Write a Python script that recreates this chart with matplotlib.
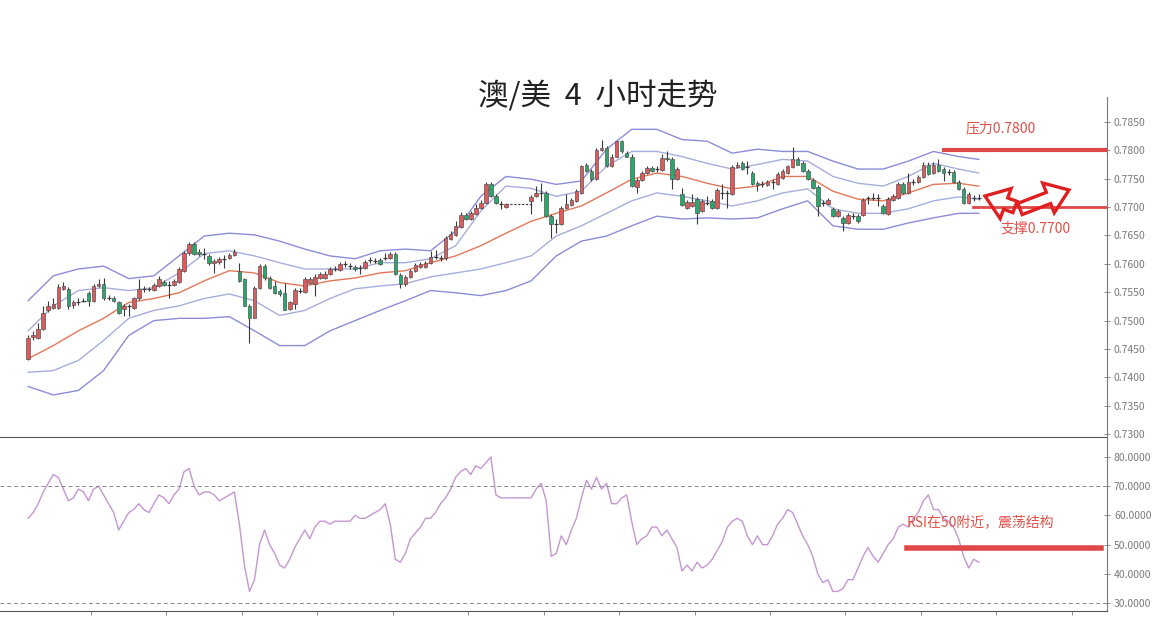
import numpy as np
import matplotlib
matplotlib.use('Agg')
import matplotlib.pyplot as plt
from matplotlib.patches import FancyArrow

plt.rcParams['font.family'] = ['Noto Sans CJK SC', 'DejaVu Sans']

nan = float('nan')

# AUD/USD 4h candles (gap = weekend)
opens = [0.7433,0.7472,0.7470,0.7486,0.7518,0.7523,0.7523,0.7556,0.7556,0.7528,
         0.7533,0.7535,0.7549,0.7535,0.7561,0.7565,0.7540,0.7540,0.7533,0.7521,
         0.7525,0.7523,0.7539,0.7556,0.7556,0.7554,0.7561,0.7568,0.7563,0.7563,
         0.7568,0.7588,0.7619,0.7635,0.7621,0.7618,0.7614,0.7602,0.7604,0.7609,
         0.7611,0.7616,0.7588,0.7574,0.7526,0.7505,0.7558,0.7596,0.7575,0.7561,
         0.7553,0.7549,0.7521,0.7530,0.7553,0.7551,0.7567,0.7565,0.7575,0.7575,
         0.7582,0.7591,0.7589,0.7600,0.7596,0.7595,0.7593,0.7593,0.7607,0.7605,
         0.7607,0.7611,0.7611,0.7618,0.7581,0.7565,0.7577,0.7588,0.7595,0.7595,
         0.7602,0.7612,0.7611,0.7611,0.7644,0.7651,0.7665,0.7686,0.7679,0.7688,
         0.7698,0.7707,0.7740,0.7719,0.7705,0.7700,nan,nan,nan,nan,
         0.7711,0.7719,0.7725,0.7725,0.7684,0.7670,0.7670,0.7698,0.7704,0.7711,
         0.7725,0.7774,0.7763,0.7749,0.7800,0.7804,0.7772,0.7789,0.7816,0.7795,
         0.7789,0.7735,0.7747,0.7760,0.7768,0.7767,0.7765,0.7786,0.7784,0.7749,
         0.7723,0.7698,0.7702,0.7714,0.7693,0.7707,0.7711,0.7698,0.7725,0.7725,
         0.7723,0.7770,0.7777,0.7770,0.7760,0.7742,0.7740,0.7739,0.7744,0.7740,
         0.7751,0.7760,0.7770,0.7784,0.7777,0.7763,0.7747,0.7735,0.7707,0.7705,
         0.7697,0.7684,0.7681,0.7672,0.7684,0.7684,0.7686,0.7716,0.7716,0.7716,
         0.7702,0.7688,0.7712,0.7716,0.7740,0.7725,0.7744,0.7744,0.7753,0.7775,
         0.7760,0.7775,0.7767,0.7761,0.7761,0.7744,0.7732,0.7707,0.7716,0.7716]
highs = [0.7474,0.7482,0.7495,0.7526,0.7535,0.7539,0.7565,0.7568,0.7560,0.7537,
         0.7540,0.7540,0.7553,0.7565,0.7574,0.7575,0.7546,0.7544,0.7535,0.7530,
         0.7530,0.7542,0.7574,0.7561,0.7560,0.7567,0.7579,0.7572,0.7570,0.7574,
         0.7595,0.7623,0.7639,0.7639,0.7626,0.7628,0.7618,0.7609,0.7612,0.7616,
         0.7619,0.7626,0.7602,0.7575,0.7530,0.7561,0.7600,0.7600,0.7579,0.7570,
         0.7556,0.7567,0.7535,0.7558,0.7558,0.7577,0.7577,0.7582,0.7586,0.7588,
         0.7595,0.7596,0.7604,0.7605,0.7602,0.7598,0.7598,0.7607,0.7612,0.7611,
         0.7611,0.7619,0.7621,0.7621,0.7584,0.7581,0.7591,0.7602,0.7604,0.7605,
         0.7623,0.7625,0.7616,0.7649,0.7658,0.7675,0.7691,0.7689,0.7693,0.7705,
         0.7712,0.7744,0.7744,0.7723,0.7711,0.7707,nan,nan,nan,nan,
         0.7721,0.7737,0.7742,0.7728,0.7688,0.7679,0.7702,0.7723,0.7716,0.7732,
         0.7775,0.7777,0.7767,0.7804,0.7819,0.7807,0.7793,0.7819,0.7818,0.7798,
         0.7793,0.7751,0.7763,0.7772,0.7772,0.7772,0.7793,0.7798,0.7788,0.7770,
         0.7733,0.7712,0.7723,0.7718,0.7714,0.7719,0.7714,0.7733,0.7740,0.7730,
         0.7774,0.7779,0.7781,0.7781,0.7763,0.7746,0.7746,0.7747,0.7749,0.7761,
         0.7767,0.7775,0.7805,0.7788,0.7781,0.7767,0.7751,0.7739,0.7712,0.7716,
         0.7700,0.7697,0.7684,0.7689,0.7689,0.7688,0.7716,0.7719,0.7725,0.7723,
         0.7705,0.7718,0.7723,0.7744,0.7744,0.7760,0.7749,0.7756,0.7779,0.7779,
         0.7779,0.7784,0.7770,0.7767,0.7765,0.7747,0.7735,0.7726,0.7721,0.7723]
lows = [0.7430,0.7465,0.7468,0.7484,0.7516,0.7521,0.7521,0.7554,0.7521,0.7523,
        0.7528,0.7532,0.7525,0.7533,0.7560,0.7537,0.7537,0.7532,0.7511,0.7509,
        0.7509,0.7521,0.7537,0.7551,0.7553,0.7553,0.7560,0.7561,0.7540,0.7561,
        0.7567,0.7586,0.7616,0.7616,0.7614,0.7609,0.7598,0.7584,0.7600,0.7593,
        0.7609,0.7614,0.7568,0.7525,0.7461,0.7504,0.7556,0.7572,0.7556,0.7547,
        0.7544,0.7518,0.7519,0.7521,0.7549,0.7549,0.7565,0.7544,0.7574,0.7574,
        0.7581,0.7588,0.7588,0.7595,0.7591,0.7588,0.7582,0.7591,0.7602,0.7602,
        0.7598,0.7607,0.7609,0.7581,0.7558,0.7561,0.7575,0.7586,0.7593,0.7593,
        0.7600,0.7609,0.7605,0.7607,0.7642,0.7649,0.7663,0.7677,0.7677,0.7686,
        0.7697,0.7705,0.7718,0.7705,0.7697,0.7698,nan,nan,nan,nan,
        0.7688,0.7718,0.7711,0.7682,0.7646,0.7654,0.7668,0.7697,0.7702,0.7709,
        0.7723,0.7761,0.7746,0.7747,0.7798,0.7770,0.7770,0.7788,0.7796,0.7788,
        0.7735,0.7725,0.7746,0.7758,0.7761,0.7761,0.7763,0.7781,0.7732,0.7747,
        0.7702,0.7697,0.7700,0.7670,0.7691,0.7704,0.7697,0.7697,0.7714,0.7698,
        0.7721,0.7768,0.7765,0.7758,0.7739,0.7728,0.7735,0.7737,0.7732,0.7739,
        0.7749,0.7758,0.7768,0.7774,0.7761,0.7747,0.7732,0.7684,0.7702,0.7704,
        0.7682,0.7682,0.7658,0.7670,0.7679,0.7672,0.7684,0.7705,0.7712,0.7702,
        0.7688,0.7686,0.7711,0.7714,0.7723,0.7723,0.7739,0.7742,0.7751,0.7756,
        0.7758,0.7761,0.7746,0.7756,0.7742,0.7730,0.7705,0.7705,0.7711,0.7712]
closes = [0.7470,0.7474,0.7486,0.7514,0.7526,0.7530,0.7560,0.7561,0.7526,0.7533,
          0.7533,0.7535,0.7535,0.7561,0.7565,0.7539,0.7540,0.7535,0.7514,0.7526,
          0.7525,0.7539,0.7556,0.7556,0.7556,0.7563,0.7574,0.7563,0.7563,0.7570,
          0.7591,0.7619,0.7635,0.7618,0.7618,0.7618,0.7602,0.7605,0.7609,0.7609,
          0.7616,0.7621,0.7570,0.7526,0.7505,0.7558,0.7596,0.7575,0.7558,0.7549,
          0.7547,0.7519,0.7532,0.7554,0.7553,0.7574,0.7574,0.7577,0.7582,0.7582,
          0.7591,0.7591,0.7600,0.7600,0.7596,0.7591,0.7593,0.7604,0.7607,0.7605,
          0.7600,0.7611,0.7618,0.7582,0.7565,0.7577,0.7588,0.7598,0.7600,0.7602,
          0.7612,0.7612,0.7611,0.7646,0.7653,0.7667,0.7686,0.7679,0.7689,0.7698,
          0.7707,0.7740,0.7719,0.7707,0.7705,0.7705,nan,nan,nan,nan,
          0.7718,0.7725,0.7725,0.7684,0.7670,0.7670,0.7698,0.7705,0.7712,0.7728,
          0.7772,0.7763,0.7749,0.7800,0.7804,0.7772,0.7789,0.7816,0.7798,0.7789,
          0.7737,0.7747,0.7760,0.7768,0.7763,0.7767,0.7786,0.7784,0.7749,0.7767,
          0.7704,0.7709,0.7709,0.7689,0.7711,0.7707,0.7698,0.7730,0.7725,0.7725,
          0.7770,0.7775,0.7767,0.7770,0.7740,0.7739,0.7740,0.7744,0.7744,0.7758,
          0.7763,0.7772,0.7784,0.7775,0.7763,0.7749,0.7733,0.7702,0.7707,0.7712,
          0.7684,0.7693,0.7672,0.7686,0.7684,0.7675,0.7712,0.7716,0.7716,0.7716,
          0.7689,0.7714,0.7719,0.7740,0.7725,0.7744,0.7744,0.7753,0.7775,0.7758,
          0.7775,0.7763,0.7760,0.7761,0.7744,0.7732,0.7707,0.7723,0.7716,0.7716]

# Bollinger lines, read every 5 bars
band_at = [0,5,10,15,20,25,30,35,40,45,50,55,60,65,70,75,80,85,90,95,
           100,105,110,115,120,125,130,135,140,145,150,155,160,165,170,175,180,185,189]
upper_outer = [0.7535,0.7579,0.7591,0.7596,0.7574,0.7579,0.7614,0.7649,0.7654,0.7651,
               0.7640,0.7626,0.7614,0.7609,0.7623,0.7626,0.7623,0.7658,0.7719,0.7754,
               0.7749,0.7740,0.7746,0.7802,0.7837,0.7837,0.7819,0.7816,0.7795,0.7802,
               0.7798,0.7798,0.7781,0.7767,0.7767,0.7781,0.7798,0.7789,0.7784]
upper_inner = [0.7482,0.7526,0.7553,0.7558,0.7553,0.7558,0.7584,0.7618,0.7623,0.7614,
               0.7602,0.7591,0.7591,0.7591,0.7602,0.7602,0.7609,0.7632,0.7693,0.7737,
               0.7733,0.7719,0.7728,0.7772,0.7798,0.7798,0.7789,0.7777,0.7767,0.7775,
               0.7784,0.7781,0.7754,0.7742,0.7737,0.7754,0.7777,0.7767,0.7760]
middle = [0.7433,0.7456,0.7482,0.7504,0.7532,0.7539,0.7549,0.7570,0.7588,0.7584,
          0.7567,0.7561,0.7570,0.7575,0.7584,0.7588,0.7602,0.7614,0.7632,0.7654,
          0.7675,0.7689,0.7702,0.7725,0.7749,0.7760,0.7754,0.7742,0.7732,0.7737,
          0.7754,0.7754,0.7728,0.7714,0.7711,0.7725,0.7740,0.7742,0.7737]
lower_inner = [0.7409,0.7412,0.7430,0.7465,0.7504,0.7518,0.7526,0.7539,0.7547,0.7535,
               0.7509,0.7518,0.7539,0.7556,0.7561,0.7565,0.7577,0.7584,0.7591,0.7602,
               0.7614,0.7649,0.7667,0.7689,0.7711,0.7725,0.7719,0.7711,0.7702,0.7711,
               0.7725,0.7732,0.7697,0.7689,0.7689,0.7697,0.7711,0.7718,0.7714]
lower_outer = [0.7384,0.7369,0.7377,0.7412,0.7474,0.7500,0.7504,0.7504,0.7507,0.7482,
               0.7456,0.7456,0.7482,0.7500,0.7518,0.7535,0.7553,0.7549,0.7544,0.7553,
               0.7570,0.7614,0.7640,0.7649,0.7667,0.7684,0.7679,0.7681,0.7679,0.7681,
               0.7697,0.7711,0.7667,0.7661,0.7661,0.7672,0.7681,0.7689,0.7689]

rsi = [59,61,64,68,71,74,73,69,65,66, 69,68,65,69,70,67,64,61,55,58,
       61,62,64,62,61,64,67,66,64,67, 69,75,76,70,67,68,68,67,65,66,
       67,68,57,43,34,38,50,55,50,47, 43,42,45,49,52,55,52,56,58,58,
       57,58,58,58,58,60,59,59,60,61, 62,64,57,45,44,47,52,54,56,59,
       59,61,64,66,69,73,75,76,74,77, 76,78,80,67,66,66,66,66,66,66,
       66,69,71,65,46,47,53,50,55,59, 66,72,69,73,69,71,64,64,66,67,
       58,50,52,53,56,56,53,55,52,49, 41,43,41,44,42,43,45,48,51,56,
       58,59,58,53,50,53,50,50,53,57, 59,62,61,57,53,50,46,40,37,38,
       34,34,35,38,38,42,46,49,46,44, 47,50,52,56,57,56,59,61,65,67,
       62,62,59,58,56,52,46,42,45,44]

resistance = 0.7800
support = 0.7700
rsi_mark = 49
price_ticks = [0.7300,0.7350,0.7400,0.7450,0.7500,0.7550,0.7600,0.7650,0.7700,0.7750,0.7800,0.7850]
rsi_ticks = [30,40,50,60,70,80]

RED = '#e05a5a'
GREEN = '#2aa86c'
TXT_RED = '#e0504a'

fig = plt.figure(figsize=(11.65, 6.2), dpi=100)
ax = fig.add_axes([0.0, 0.2952, 0.9502, 0.5484])
ax2 = fig.add_axes([0.0, 0.0145, 0.9502, 0.2806])

o = np.array(opens); h = np.array(highs); l = np.array(lows); c = np.array(closes)
idx = np.arange(len(o))
ok = ~np.isnan(o)
up = ok & (c > o)
dn = ok & (c < o)
fl = ok & (c == o)

# bands first, candles on top
ax.plot(band_at, upper_outer, color='#8c8cd8', lw=1.0)
ax.plot(band_at, lower_outer, color='#8c8cd8', lw=1.0)
ax.plot(band_at, upper_inner, color='#a7aedc', lw=1.0)
ax.plot(band_at, lower_inner, color='#a7aedc', lw=1.0)
ax.plot(band_at, middle, color='#e3775a', lw=1.0)

ax.vlines(idx[ok], l[ok], h[ok], color='#3a3a3a', lw=0.8, zorder=3)
ax.bar(idx[up], c[up] - o[up], bottom=o[up], width=0.72, color=RED,
       edgecolor='#555555', linewidth=0.5, zorder=4)
ax.bar(idx[dn], c[dn] - o[dn], bottom=o[dn], width=0.72, color=GREEN,
       edgecolor='#555555', linewidth=0.5, zorder=4)
ax.hlines(o[fl], idx[fl] - 0.4, idx[fl] + 0.4, color='#3a3a3a', lw=0.9, zorder=4)

# weekend gap
gap = np.where(~ok)[0]
ax.plot([gap[0] - 1, gap[-1] + 1], [c[gap[0] - 1], c[gap[0] - 1]],
        color='#333333', lw=0.8, ls=(0, (2, 1.5)), zorder=3)

ax.axhline(resistance, xmin=0.853, xmax=1.0, color='#e04848', lw=3.0, zorder=5)
ax.axhline(support, xmin=0.879, xmax=1.0, color='#e04848', lw=2.0, zorder=5)

ax.set_xlim(-5.6, 214.5)
ax.set_ylim(0.7295, 0.7894)
ax.set_yticks(price_ticks)
ax.set_yticklabels(['%.4f' % t for t in price_ticks])

ax2.plot(idx, rsi, color='#c596d2', lw=1.0)
ax2.axhline(70, color='#8a8a8a', lw=0.7, ls=(0, (4, 3)))
ax2.axhline(30, color='#8a8a8a', lw=0.7, ls=(0, (4, 3)))
ax2.axhline(rsi_mark, xmin=0.819, xmax=0.995, color='#e04848', lw=4.0)
ax2.set_xlim(-5.6, 214.5)
ax2.set_ylim(27.3, 86.8)
ax2.set_yticks(rsi_ticks)
ax2.set_yticklabels(['%.4f' % t for t in rsi_ticks])
ax2.set_xticks(np.arange(12.5, 214, 15))

for a in (ax, ax2):
    a.set_facecolor('none')
    a.spines['top'].set_visible(False)
    a.spines['left'].set_visible(False)
    a.spines['right'].set_color('#7a7a7a')
    a.spines['bottom'].set_color('#555555')
    a.yaxis.tick_right()
    a.tick_params(axis='y', direction='inout', length=4, width=0.6, colors='#7a7a7a',
                  labelsize=7.5, pad=3)
ax.tick_params(axis='x', bottom=False, labelbottom=False)
ax2.tick_params(axis='x', direction='out', length=3, width=0.6, colors='#7a7a7a',
                labelbottom=False)

fig.text(598 / 1165, 1 - 97 / 620, '澳/美  4  小时走势', ha='center', va='center',
         fontsize=22, color='#222222')
fig.text(1001 / 1165, 1 - 128 / 620, '压力0.7800', ha='center', va='center',
         fontsize=10, color=TXT_RED)
fig.text(1036 / 1165, 1 - 229 / 620, '支撑0.7700', ha='center', va='center',
         fontsize=10, color=TXT_RED)
fig.text(907 / 1165, 1 - 522 / 620, 'RSI在50附近，震荡结构', ha='left', va='center',
         fontsize=10, color=TXT_RED)

# hollow arrows
for (x0, y0, x1, y1) in [(1015, 207, 985, 196), (1020, 209, 1069, 190)]:
    arr = FancyArrow(x0 / 100, (620 - y0) / 100, (x1 - x0) / 100, -(y1 - y0) / 100,
                     width=0.12, head_width=0.32, head_length=0.22,
                     length_includes_head=True, fill=False, ec='#e02020', lw=2.4,
                     transform=fig.dpi_scale_trans)
    fig.add_artist(arr)

fig.savefig('out.png', dpi=100)
